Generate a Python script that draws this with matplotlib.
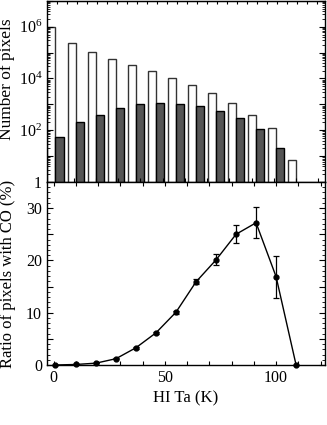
import numpy as np
import matplotlib
matplotlib.use("Agg")
import matplotlib.pyplot as plt
from matplotlib.ticker import MultipleLocator, LogLocator, FuncFormatter, NullFormatter, FixedLocator

plt.rcParams['font.family'] = ['Liberation Serif', 'DejaVu Serif']
plt.rcParams['mathtext.fontset'] = 'custom'
plt.rcParams['mathtext.rm'] = 'Liberation Serif'
plt.rcParams['mathtext.it'] = 'Liberation Serif:italic'
plt.rcParams['font.size'] = 11.5

# HI Ta bin centres (K)
ta = [0.8, 10, 19, 28, 37, 46, 55, 64, 73, 82, 91, 100, 109]
# number of pixels in each bin: all, and with CO
n_all = [1.0e6, 2.4e5, 1.1e5, 5.8e4, 3.2e4, 1.9e4, 1.07e4, 5.6e3, 2.7e3, 1.1e3, 390, 118, 7.3]
n_co = [53, 200, 400, 720, 1070, 1170, 1070, 890, 550, 290, 108, 20.5, 0]
# ratio of pixels with CO (%) and errors
ratio = [0.0, 0.1, 0.35, 1.2, 3.3, 6.15, 10.1, 15.9, 20.1, 25.0, 27.2, 16.9, 0.0]
ratio_err = [0, 0, 0.05, 0.1, 0.15, 0.2, 0.3, 0.5, 1.05, 1.7, 3.0, 4.0, 0]

bar_w = 3.7
xlim = (-3, 122)

fig = plt.figure(figsize=(3.27, 4.25), dpi=100)
ax1 = fig.add_axes([0.1437, 0.5718, 0.8502, 0.4262])
ax2 = fig.add_axes([0.1437, 0.1412, 0.8502, 0.4306])

# ---- top panel: histograms
x = np.array(ta)
a = np.array(n_all)
c = np.array(n_co)
ax1.set_yscale('log')
ax1.bar(x - bar_w / 2, a, width=bar_w, color='white', edgecolor='#333333', linewidth=1.0)
m = c > 0
ax1.bar(x[m] + bar_w / 2, c[m], width=bar_w, color='#555555', edgecolor='black', linewidth=1.0)
ax1.set_xlim(*xlim)
ax1.set_ylim(1, 1e7)
ax1.yaxis.set_major_locator(LogLocator(base=10, numticks=10))
ax1.yaxis.set_minor_locator(LogLocator(base=10, subs=np.arange(2, 10), numticks=20))
ax1.yaxis.set_minor_formatter(NullFormatter())


def logfmt(v, pos):
    e = int(round(np.log10(v)))
    if e == 0:
        return '1'
    if e % 2:
        return ''
    return r'$10^{%d}$' % e


ax1.yaxis.set_major_formatter(FuncFormatter(logfmt))
ax1.xaxis.set_major_locator(FixedLocator(np.arange(9, 120, 10)))
ax1.tick_params(axis='x', which='both', direction='in', bottom=True, top=False,
                labelbottom=False, length=3, width=0.8)
sec = ax1.secondary_xaxis('top')
sec.xaxis.set_major_locator(FixedLocator(np.arange(1.5, 122, 4.5)))
sec.tick_params(direction='in', length=2.5, width=0.8, labeltop=False)
ax1.tick_params(axis='y', which='major', direction='in', left=True, right=True, length=4, width=0.8)
ax1.tick_params(axis='y', which='minor', direction='in', left=True, right=True, length=2, width=0.6)
ax1.set_ylabel('Number of pixels', fontsize=12.5)
ax1.yaxis.set_label_coords(-0.115, 0.57)
for s in ax1.spines.values():
    s.set_linewidth(1.0)

# ---- bottom panel: ratio
ax2.errorbar(ta, ratio, yerr=ratio_err, color='black', linewidth=1.0, marker='o',
             markersize=3.5, capsize=2, elinewidth=0.9, capthick=0.9, clip_on=False, zorder=3)
ax2.set_xlim(*xlim)
ax2.set_ylim(0, 35)
ax2.xaxis.set_major_locator(MultipleLocator(50))
ax2.xaxis.set_minor_locator(MultipleLocator(10))
ax2.yaxis.set_major_locator(MultipleLocator(5))
ax2.yaxis.set_minor_locator(MultipleLocator(1))
ax2.yaxis.set_major_formatter(FuncFormatter(lambda v, p: '%d' % v if v % 10 == 0 else ''))
ax2.tick_params(axis='x', which='both', direction='in', top=True, bottom=True, length=3, width=0.8)
ax2.tick_params(axis='y', which='major', direction='in', left=True, right=True, length=4, width=0.8)
ax2.tick_params(axis='y', which='minor', direction='in', left=True, right=True, length=2, width=0.6)
ax2.set_xlabel('HI Ta (K)', labelpad=3, fontsize=12)
ax2.set_ylabel('Ratio of pixels with CO (%)', fontsize=12)
ax2.yaxis.set_label_coords(-0.11, 0.5)
for s in ax2.spines.values():
    s.set_linewidth(1.0)

fig.savefig('out.png', dpi=100)
